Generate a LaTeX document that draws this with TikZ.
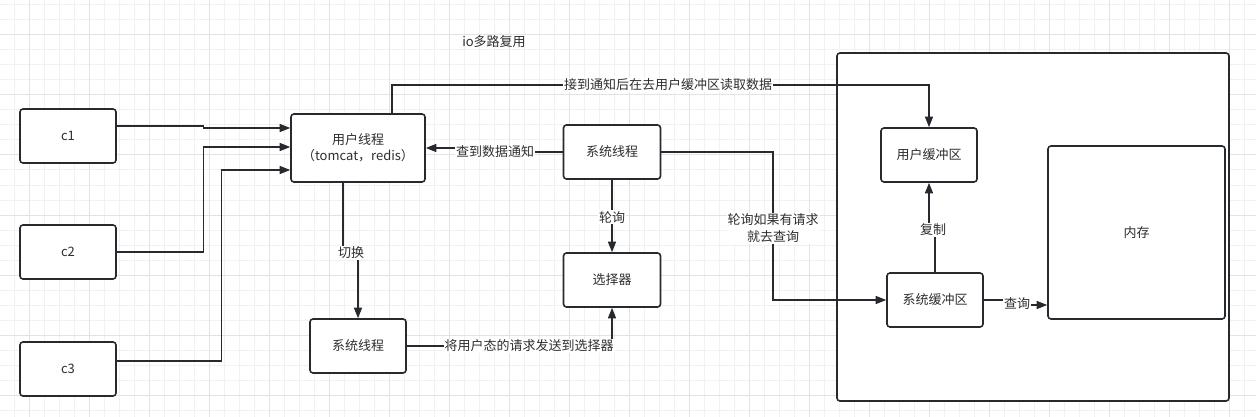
\documentclass[tikz,border=0pt]{standalone}
\usepackage{fontspec}
\setmainfont{Noto Sans CJK SC}
\usepackage{tikz}
\usetikzlibrary{arrows.meta}
\definecolor{linegray}{HTML}{262A2F}
\definecolor{textgray}{HTML}{2E2E2E}
\definecolor{gridminor}{HTML}{F1F1F1}
\definecolor{gridmajor}{HTML}{E3E3E3}

\tikzset{
  box/.style={draw=linegray, line width=1.6pt, fill=white, rounded corners=3pt,
    inner sep=0pt, align=center, text=textgray, font=\fontsize{13}{16}\selectfont},
  conn/.style={draw=linegray, line width=1.3pt, -{Triangle[length=10.5pt,width=8pt]}},
  lbl/.style={fill=white, inner sep=1pt, align=center, text=textgray,
    font=\fontsize{13}{17}\selectfont}
}

\begin{document}
\begin{tikzpicture}[x=1pt,y=-1pt]
\useasboundingbox (0,0) rectangle (1256,417);
% grid background
\fill[white] (0,0) rectangle (1256,417);
\foreach \x in {14,29,...,1256} \draw[gridminor, line width=1pt] (\x,0) -- (\x,417);
\foreach \y in {5,20,...,417} \draw[gridminor, line width=1pt] (0,\y) -- (1256,\y);
\foreach \x in {29,89,...,1256} \draw[gridmajor, line width=1pt] (\x,0) -- (\x,417);
\foreach \y in {35,95,...,417} \draw[gridmajor, line width=1pt] (0,\y) -- (1256,\y);

\node[text=textgray, font=\fontsize{13}{16}\selectfont] (title) at (494,42) {io多路复用};

% clients
\node[box, minimum width=96pt, minimum height=54pt] (c1) at (68,136) {c1};
\node[box, minimum width=96pt, minimum height=54pt] (c2) at (68,252) {c2};
\node[box, minimum width=96pt, minimum height=54pt] (c3) at (68,369) {c3};

% threads
\node[box, minimum width=134pt, minimum height=68pt] (uthread) at (358,148) {用户线程\\（tomcat，redis）};
\node[box, minimum width=96pt, minimum height=54pt] (sthreadlow) at (358,346) {系统线程};
\node[box, minimum width=97pt, minimum height=54pt] (sthread) at (612,152) {系统线程};
\node[box, minimum width=97pt, minimum height=54pt] (selector) at (612,280) {选择器};

% kernel side
\node[box, minimum width=392pt, minimum height=348pt] (kernel) at (1033,227) {};
\node[box, minimum width=96pt, minimum height=54pt] (ubuf) at (929,155) {用户缓冲区};
\node[box, minimum width=96pt, minimum height=54pt] (sbuf) at (935,300) {系统缓冲区};
\node[box, minimum width=177pt, minimum height=173pt] (mem) at (1136.5,232.5) {内存};

% connectors
\draw[conn] ([yshift=10pt]c1.east) -- ++(87,0) |- ([yshift=20pt]uthread.west);
\draw[conn] (c2.east) -- ++(87,0) |- ([yshift=1pt]uthread.west);
\draw[conn] ([yshift=8pt]c3.east) -- ++(105,0) |- ([yshift=-22pt]uthread.west);
\draw[conn] ([xshift=-15pt]uthread.south) |- (351,253) node[lbl] {切换} -| (sthreadlow.north);
\draw[conn] (sthread.west) -- (495,152) node[lbl] {查到数据通知} |- (uthread.east);
\draw[conn] (sthread.south) -- node[lbl, pos=0.52] {轮询} (selector.north);
\draw[conn] (sthreadlow.east) -- (529,346) node[lbl] {将用户态的请求发送到选择器} -| (selector.south);
\draw[conn] (sthread.east) -| (773,228) node[lbl] {轮询如果有请求\\就去查询} |- (sbuf.west);
\draw[conn] ([xshift=34pt]uthread.north) |- (668,85) node[lbl] {接到通知后在去用户缓冲区读取数据} -| (ubuf.north);
\draw[conn] (sbuf.north) |- (933,230) node[lbl] {复制} -| (ubuf.south);
\draw[conn] (sbuf.east) -| (1017,304) node[lbl] {查询} |- ([yshift=-72.5pt]mem.west);
\end{tikzpicture}
\end{document}
